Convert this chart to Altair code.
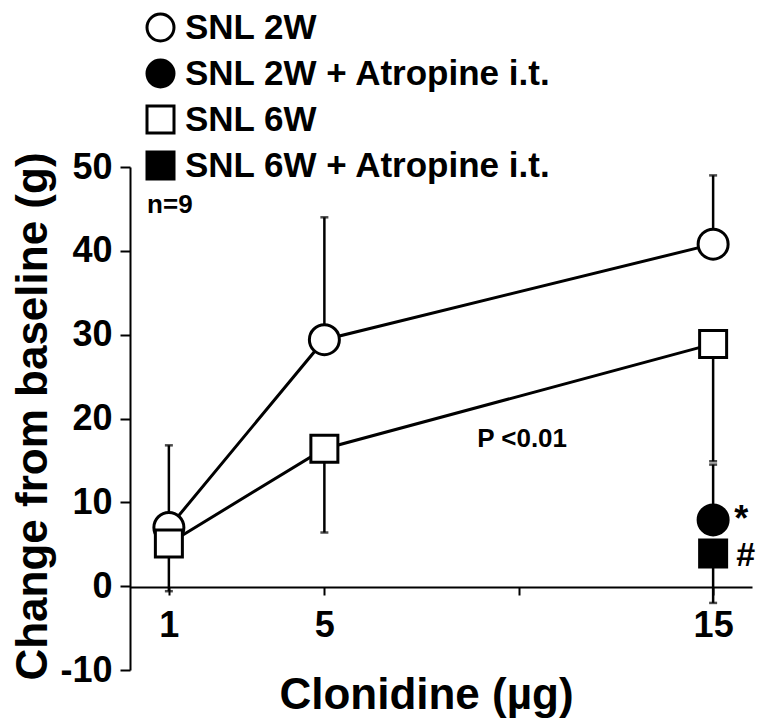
import altair as alt
import pandas as pd

FONT = "Liberation Sans"

series_names = ["SNL 2W", "SNL 2W + Atropine i.t.", "SNL 6W", "SNL 6W + Atropine i.t."]

# SNL 2W (open circles)
x_2w = [1, 5, 15]
y_2w = [7.0, 29.4, 40.8]
err_2w = [16.8, 44.0, 49.0]      # end of error bar (upper)

# SNL 6W (open squares)
x_6w = [1, 5, 15]
y_6w = [5.1, 16.4, 28.9]
err_6w = [-0.6, 6.4, 14.9]       # end of error bar (lower)

# Atropine groups
x_2w_at = [15]
y_2w_at = [7.9]
err_2w_at = [14.5]
x_6w_at = [15]
y_6w_at = [3.9]
err_6w_at = [-2.0]

sig_marks = ["*", "#"]

x_ticks = [1, 5, 10, 15]
y_ticks = [-10, 0, 10, 20, 30, 40, 50]

rows = []
for name, xs, ys, es in [
    (series_names[0], x_2w, y_2w, err_2w),
    (series_names[1], x_2w_at, y_2w_at, err_2w_at),
    (series_names[2], x_6w, y_6w, err_6w),
    (series_names[3], x_6w_at, y_6w_at, err_6w_at),
]:
    for xv, yv, ev in zip(xs, ys, es):
        rows.append({"series": name, "dose": xv, "value": yv, "err": ev})
df = pd.DataFrame(rows)

star_df = pd.DataFrame({"dose": x_2w_at, "value": y_2w_at, "label": [sig_marks[0]]})
hash_df = pd.DataFrame({"dose": x_6w_at, "value": y_6w_at, "label": [sig_marks[1]]})

notes_df = pd.DataFrame({
    "dose": [0.44, 8.93],
    "value": [44.5, 16.6],
    "label": ["n=9", "P <0.01"],
})

xscale = alt.Scale(domain=[0, 16], nice=False, zero=False)
yscale = alt.Scale(domain=[-10, 50], nice=False)

x_axis = alt.Axis(
    values=x_ticks,
    labelExpr="datum.value == 10 ? '' : datum.label",
    title="Clonidine (µg)",
    offset=-83,
    tickSize=8, tickWidth=2, domainWidth=2,
    labelPadding=13,
    labelFontSize=36, titleFontSize=44,
    titleX=296, titleY=121, titleBaseline="alphabetic",
    grid=False,
)
y_axis = alt.Axis(
    values=y_ticks,
    labelExpr="datum.value < 0 ? '-' + abs(datum.value) : datum.label",
    title="Change from baseline (g)",
    tickSize=10, tickWidth=2, domainWidth=2,
    labelPadding=8,
    labelFontSize=36, titleFontSize=44,
    titleX=-97, titleY=249, titleBaseline="middle", titleAngle=-90,
    grid=False,
)

X = alt.X("dose:Q", scale=xscale, axis=x_axis)
Y = alt.Y("value:Q", scale=yscale, axis=y_axis)

legend = alt.Legend(
    title=None, orient="none", legendX=13, legendY=-157, direction="vertical",
    labelFont=FONT, labelFontWeight="bold", labelFontSize=35, labelColor="black",
    labelLimit=500, symbolSize=729, symbolStrokeWidth=3,
    rowPadding=7, labelOffset=7,
)

shape_scale = alt.Scale(domain=series_names, range=["circle", "circle", "square", "square"])
fill_scale = alt.Scale(domain=series_names, range=["white", "black", "white", "black"])
stroke_scale = alt.Scale(domain=series_names, range=["black", "black", "black", "black"])

base = alt.Chart(df)

err_rule = base.mark_rule(color="black", strokeWidth=2.5).encode(
    x=X, y=Y, y2="err:Q"
)
err_cap = base.mark_tick(color="black", orient="horizontal", size=8, thickness=2.5).encode(
    x=X, y=alt.Y("err:Q", scale=yscale)
)
lines = base.transform_filter(
    alt.FieldOneOfPredicate(field="series", oneOf=[series_names[0], series_names[2]])
).mark_line(color="black", strokeWidth=3).encode(
    x=X, y=Y, detail="series:N"
)


def point_layer(names, size):
    return base.transform_filter(
        alt.FieldOneOfPredicate(field="series", oneOf=names)
    ).mark_point(filled=True, strokeWidth=3, opacity=1, size=size).encode(
        x=X, y=Y,
        shape=alt.Shape("series:N", scale=shape_scale, legend=legend),
        fill=alt.Fill("series:N", scale=fill_scale, legend=legend),
        stroke=alt.Stroke("series:N", scale=stroke_scale, legend=legend),
    )


circles = point_layer([series_names[0], series_names[1]], 900)
squares = point_layer([series_names[2], series_names[3]], 729)

star = alt.Chart(star_df).mark_text(font=FONT, fontWeight="bold", align="left",
                                    baseline="top", dx=21, dy=-17, fontSize=36,
                                    color="black").encode(
    x=alt.X("dose:Q", scale=xscale), y=alt.Y("value:Q", scale=yscale), text="label:N"
)
hashm = alt.Chart(hash_df).mark_text(font=FONT, fontWeight="bold", align="left",
                                     baseline="top", dx=23, dy=-14, fontSize=34,
                                     color="black").encode(
    x=alt.X("dose:Q", scale=xscale), y=alt.Y("value:Q", scale=yscale), text="label:N"
)
notes = alt.Chart(notes_df).mark_text(font=FONT, fontWeight="bold", align="left",
                                      baseline="alphabetic", fontSize=26, color="black").encode(
    x=alt.X("dose:Q", scale=xscale), y=alt.Y("value:Q", scale=yscale), text="label:N"
)

chart = alt.layer(err_rule, err_cap, lines, circles, squares, star, hashm, notes).properties(
    width=622, height=503,
    autosize=alt.AutoSizeParams(type="none"),
    padding={"left": 122, "top": 159, "right": 4, "bottom": 48},
).configure_view(stroke=None).configure_axis(
    labelFont=FONT, titleFont=FONT, labelFontWeight="bold", titleFontWeight="bold",
    labelColor="black", titleColor="black", domainColor="black", tickColor="black",
)

chart.save("out.html", embed_options={"renderer": "svg", "actions": False})
